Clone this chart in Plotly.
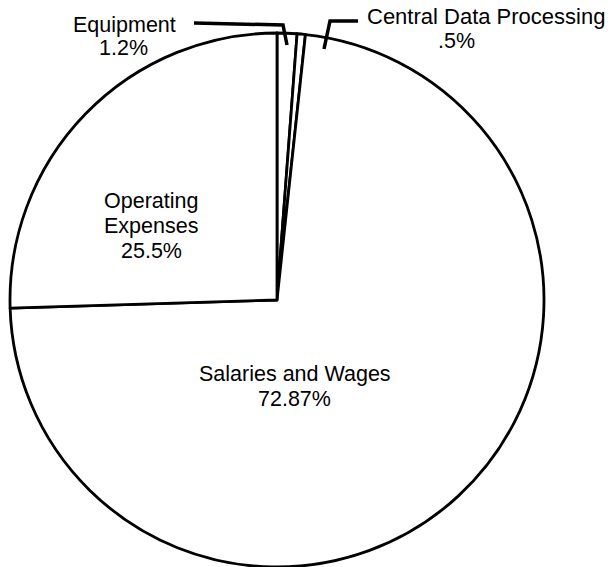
import plotly.graph_objects as go

# Data (clockwise from 12 o'clock)
categories = ["Equipment", "Central Data Processing", "Salaries and Wages", "Operating Expenses"]
values = [1.2, 0.5, 72.87, 25.5]
value_labels = ["1.2%", ".5%", "72.87%", "25.5%"]

W, H = 613, 567

def px(x):
    return x / W

def py(y):
    return 1 - y / H

fig = go.Figure(go.Pie(
    labels=categories,
    values=values,
    sort=False,
    direction="clockwise",
    rotation=0,
    textinfo="none",
    hoverinfo="label+value",
    marker=dict(colors=["white"] * 4, line=dict(color="black", width=2.8)),
    domain=dict(x=[px(10), px(544)], y=[py(567), py(33)]),
    showlegend=False,
))

FONT = dict(family="Liberation Sans, Arial, Helvetica, sans-serif", size=21.5, color="black")

def note(text, x, y, size=21.5):
    fig.add_annotation(x=px(x), y=py(y), xref="paper", yref="paper", text=text,
                       showarrow=False, xanchor="center", yanchor="middle",
                       font=dict(FONT, size=size))

# Labels
note(categories[0], 124, 25)
note(value_labels[0], 123, 48)
note(categories[1], 486, 17, size=22)
note(value_labels[1], 456, 41)
note("Operating", 151, 201)
note("Expenses", 151, 225.5)
note(value_labels[3], 151, 250.5)
note("Salaries and Wages", 295, 374)
note(value_labels[2], 294, 398.5)

# Leader lines
def path(pts):
    return "M " + " L ".join(f"{px(x)} {py(y)}" for x, y in pts)

fig.add_shape(type="path", xref="paper", yref="paper",
              path=path([(194, 23), (283, 25), (287, 45)]),
              line=dict(color="black", width=3.5))
fig.add_shape(type="path", xref="paper", yref="paper",
              path=path([(358, 21), (330, 21), (324, 49)]),
              line=dict(color="black", width=3.5))

fig.update_layout(
    width=W, height=H,
    margin=dict(l=0, r=0, t=0, b=0),
    paper_bgcolor="white", plot_bgcolor="white",
)

fig.write_html("out.html",
               config={"displayModeBar": False},
               post_script="document.body.style.margin='0';document.body.style.overflow='hidden';")
